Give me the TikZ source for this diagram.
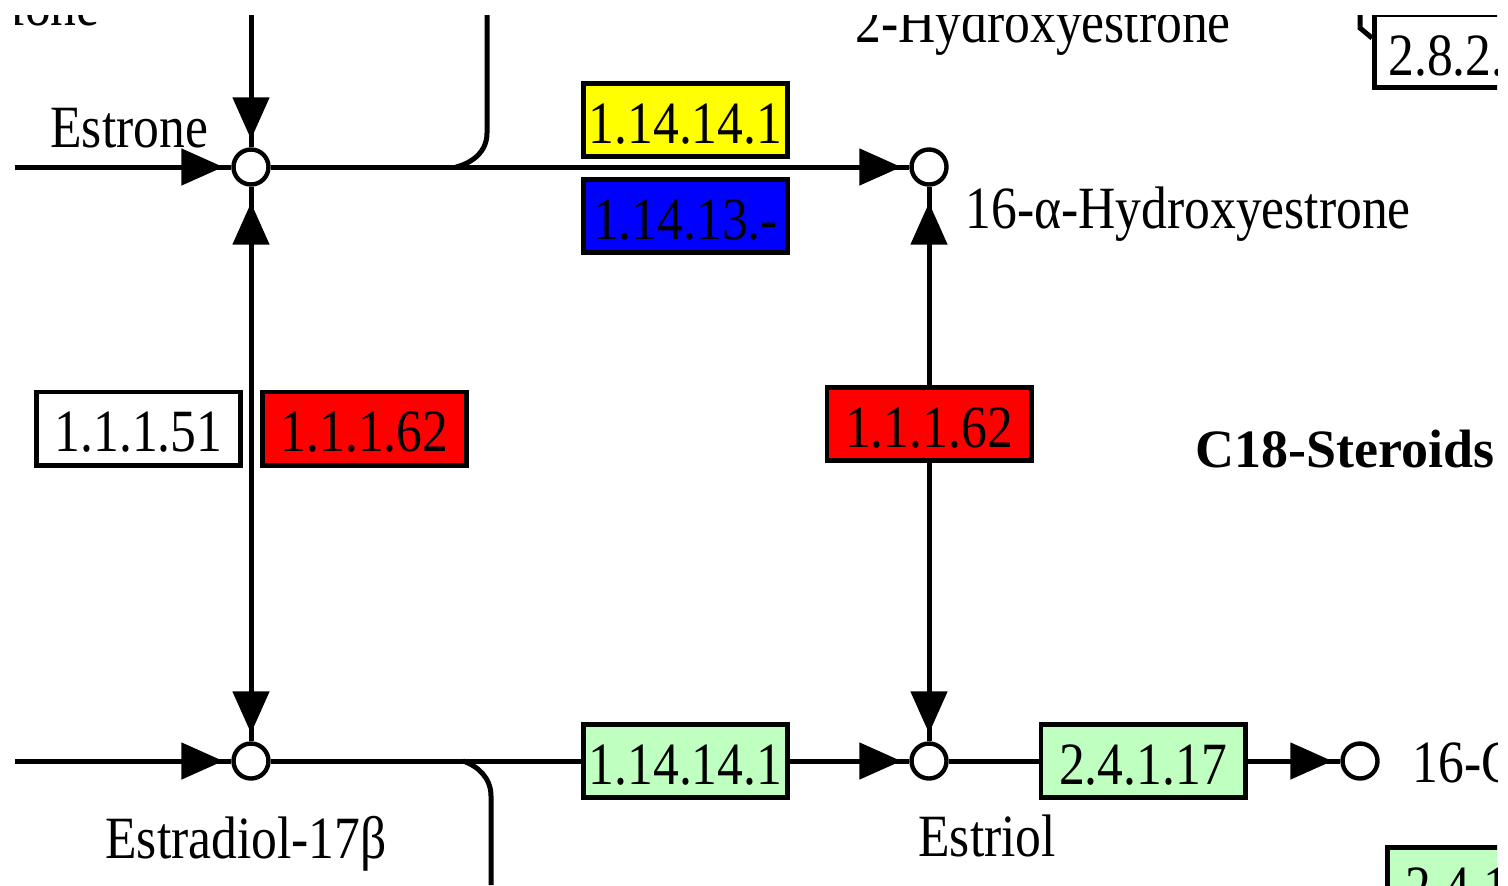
\documentclass[tikz,border=0pt]{standalone}
\usepackage{fontspec}
\setmainfont{Liberation Serif}[FakeStretch=0.86]
\newfontfamily\headfont{Liberation Serif}
\usetikzlibrary{arrows.meta}

\definecolor{kred}{RGB}{255,0,0}
\definecolor{kblue}{RGB}{0,0,255}
\definecolor{kyellow}{RGB}{255,255,0}
\definecolor{kgreen}{RGB}{191,255,191}

\tikzset{
  ln/.style={line width=2.5pt, draw=black},
  tipend/.style={ln, -{Triangle[length=21pt,width=18pt]}, shorten >=#1},
  tipend/.default=4pt,
  cpd/.style={circle, draw, line width=2.2pt, fill=white, minimum size=17.5pt, inner sep=0pt},
  enz/.style={rectangle, draw, line width=2.4pt, minimum width=102.1pt, minimum height=36.6pt,
    inner sep=0pt, text height=23pt, text depth=0pt, font=\fontsize{30pt}{30pt}\selectfont},
  lbl/.style={inner sep=0pt, anchor=base west, font=\fontsize{30pt}{30pt}\selectfont},
}

\begin{document}
\begin{tikzpicture}[x=0.5pt,y=-0.5pt]
\useasboundingbox (0,0) rectangle (1508,885);
\begin{scope}
\clip (15,15) rectangle (1497,885);

% compounds
\node[cpd] (estrone) at (251,167) {};
\node[cpd] (hydroxy) at (929,167) {};
\node[cpd] (estradiol) at (251,761) {};
\node[cpd] (estriol) at (929,761) {};
\node[cpd] (gluc) at (1360,761) {};

% enzymes
\node[enz, fill=kyellow] (cypA) at (685.5,120) {1.14.14.1};
\node[enz, fill=kblue] (cypB) at (685.5,216) {1.14.13.-};
\node[enz, fill=white] (hsdW) at (138.5,428.5) {1.1.1.51};
\node[enz, fill=kred] (hsdA) at (364.5,428.5) {1.1.1.62};
\node[enz, fill=kred] (hsdB) at (929,424) {1.1.1.62};
\node[enz, fill=kgreen] (cypC) at (685.5,761) {1.14.14.1};
\node[enz, fill=kgreen] (ugtA) at (1143,761) {2.4.1.17};
\node[enz, fill=kgreen] (ugtB) at (1489.5,884) {2.4.1.17};
\node[enz, fill=white] (sult) at (1476.5,51) {};
\node[lbl] (sultText) at (1388,75) {2.8.2.4};

% free ends
\coordinate (inE1) at (15,167);
\coordinate (topE1) at (251,15);
\coordinate (inE2) at (15,761);

% reactions
\draw[ln] (inE1) -- (estrone);   \draw[tipend] (inE1) -- (estrone);
\draw[ln] (topE1) -- (estrone);  \draw[tipend] (topE1) -- (estrone);
\draw[ln] (estrone) -- (hydroxy); \draw[tipend] (estrone) -- (hydroxy);
\draw[ln] (estrone) -- (estradiol);
\draw[tipend=8pt] (estradiol) -- (estrone);
\draw[tipend] (estrone) -- (estradiol);
\draw[ln] (hydroxy) -- (hsdB);   \draw[tipend=8pt] (hsdB) -- (hydroxy);
\draw[ln] (hsdB) -- (estriol);   \draw[tipend] (hsdB) -- (estriol);
\draw[ln] (inE2) -- (estradiol); \draw[tipend] (inE2) -- (estradiol);
\draw[ln] (estradiol) -- (cypC);
\draw[ln] (cypC) -- (estriol);   \draw[tipend] (cypC) -- (estriol);
\draw[ln] (estriol) -- (ugtA);
\draw[ln] (ugtA) -- (gluc);      \draw[tipend] (ugtA) -- (gluc);

% branching curves
\draw[ln] (487,15) -- (487,133) .. controls (487,152) and (472,163) .. (456,167);
\draw[ln] (463,761) .. controls (478,766) and (491,778) .. (491,796) -- (491,885);
\draw[ln] (1360,15) -- (1360,28) -- (1372,38);

% compound names
\node[lbl, anchor=base east] (lAndro) at (100,25) {Androstenedione};
\node[lbl] (lEstrone) at (50,147) {Estrone};
\node[lbl] (l2OH) at (855,42) {2-Hydroxyestrone};
\node[lbl] (l16OH) at (965,228) {16-α-Hydroxyestrone};
\node[lbl, font=\headfont\bfseries\fontsize{27pt}{27pt}\selectfont] (lC18) at (1195,467) {C18-Steroids};
\node[lbl] (lEstradiol) at (105,858) {Estradiol-17β};
\node[lbl] (lEstriol) at (918,856) {Estriol};
\node[lbl] (lGluc) at (1412,782) {16-Glucuronide-estriol};
\end{scope}
\end{tikzpicture}
\end{document}
